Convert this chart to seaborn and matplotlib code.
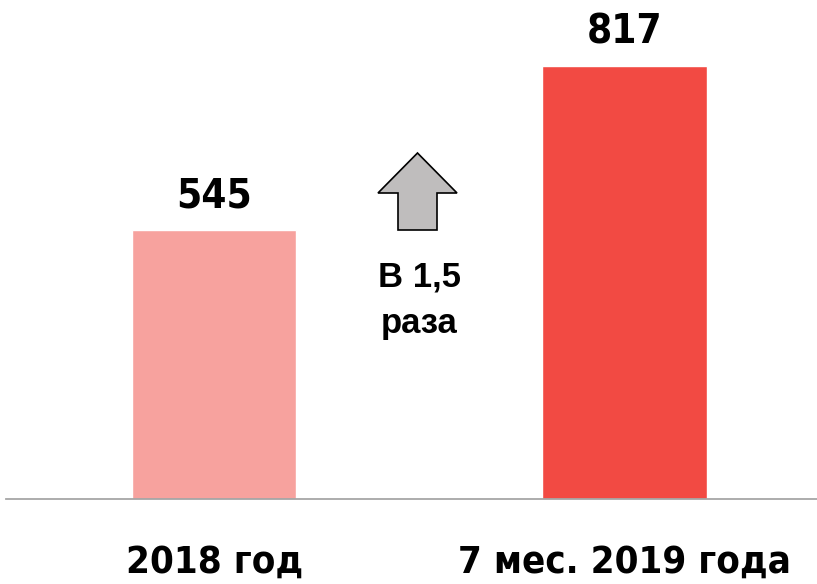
import matplotlib
matplotlib.use("Agg")
import matplotlib.pyplot as plt
import seaborn as sns
from matplotlib.patches import Polygon

categories = ["2018 год", "7 мес. 2019 года"]
values = [545, 817]
colors = ["#F7A29E", "#F24A43"]

sns.set_style("white")
narrow = ["DejaVu Sans"]
plt.rcParams["font.family"] = narrow
plt.rcParams["text.color"] = "black"
plt.rcParams["xtick.color"] = "black"

fig = plt.figure(figsize=(8.17, 5.84), dpi=100)
ax = fig.add_axes([6 / 817, 85 / 584, 811 / 817, 499 / 584])

sns.barplot(x=categories, y=values, hue=categories, palette=colors,
            width=0.4, legend=False, ax=ax, saturation=1)

ax.set_xlim(-0.5085, 1.4695)
ax.set_ylim(101, 926)

for i, v in enumerate(values):
    ax.text(i, v + 23, str(v), ha="center", va="bottom", color="black",
            fontsize=29, fontweight="bold", fontstretch="condensed")

for s in ["top", "right", "left"]:
    ax.spines[s].set_visible(False)
ax.spines["bottom"].set_color("#A6A6A6")
ax.spines["bottom"].set_linewidth(1.3)
ax.set_yticks([])
ax.tick_params(axis="x", length=0, pad=33, labelcolor="black")
for lab in ax.get_xticklabels():
    lab.set_fontsize(27.5)
    lab.set_fontweight("bold")
    lab.set_fontstretch("condensed")

# block arrow in the middle
pts = [(417.5, 153), (457, 193), (437, 193), (437, 230),
       (398, 230), (398, 193), (378, 193)]
pts = [(x / 817, 1 - y / 584) for x, y in pts]
fig.patches.append(Polygon(pts, closed=True, transform=fig.transFigure,
                           facecolor="#BFBDBD", edgecolor="black", linewidth=1.2))

arial = ["Liberation Sans", "DejaVu Sans"]
fig.text(419 / 817, 1 - 277 / 584, "В 1,5", ha="center", va="center",
         fontsize=25, fontweight="bold", family=arial, color="black")
fig.text(419 / 817, 1 - 323 / 584, "раза", ha="center", va="center",
         fontsize=25, fontweight="bold", family=arial, color="black")

fig.savefig("out.png", dpi=100)
